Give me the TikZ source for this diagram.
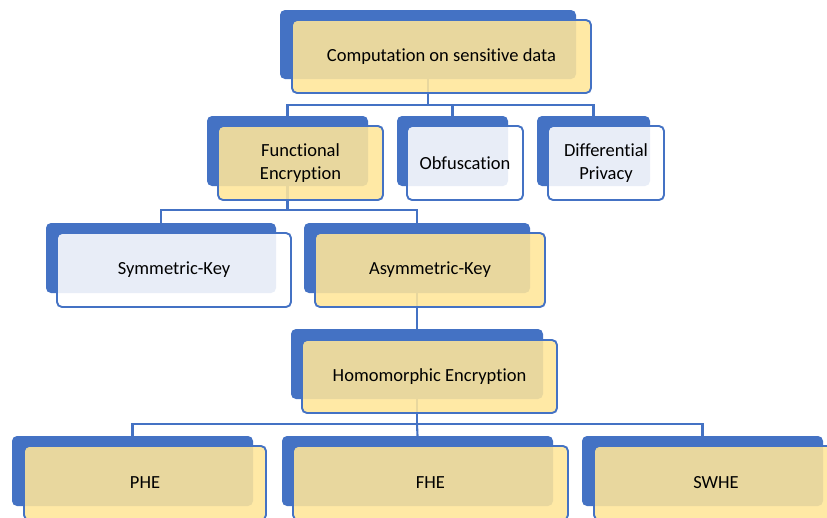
\documentclass[tikz,border=0pt]{standalone}
\usepackage{fontspec}
\setmainfont{Carlito}[Ligatures={NoCommon}]
\definecolor{accent}{HTML}{4472C4}
\definecolor{paleyellow}{HTML}{FFE699}
\begin{document}
\begin{tikzpicture}[x=1pt,y=-1pt,
  backbox/.style={rectangle, rounded corners=5pt, fill=accent, draw=none, minimum height=70pt, inner sep=0pt},
  frontbox/.style={rectangle, rounded corners=5pt, draw=accent, line width=1.9pt, fill opacity=0.88, text opacity=1,
    minimum height=74pt, inner sep=0pt, align=center, font=\fontsize{18.5}{22.5}\selectfont},
  yel/.style={frontbox, fill=paleyellow},
  wht/.style={frontbox, fill=white},
  conn/.style={draw=accent, line width=2.1pt}]
\clip (0,0) rectangle (827,517);
\fill[white] (0,0) rectangle (827,517);

% back panels
\node[backbox, minimum width=296pt, minimum height=69pt] (topB) at (428,44.5) {};
\node[backbox, minimum width=161pt] (funcB) at (287.5,151) {};
\node[backbox, minimum width=111pt] (obfB) at (452.5,151) {};
\node[backbox, minimum width=113pt] (diffB) at (593.5,151) {};
\node[backbox, minimum width=230pt] (symB) at (161,258) {};
\node[backbox, minimum width=226pt] (asymB) at (417,258) {};
\node[backbox, minimum width=252pt] (homB) at (417,364) {};
\node[backbox, minimum width=241pt] (pheB) at (132.5,471) {};
\node[backbox, minimum width=271pt] (fheB) at (417.5,471) {};
\node[backbox, minimum width=241pt] (swheB) at (702.5,471) {};

% connectors
\draw[conn] (topB.south) -- (topB.south |- 0,105) -| (funcB.north);
\draw[conn] (topB.south |- 0,105) -| (obfB.north);
\draw[conn] (topB.south |- 0,105) -| (diffB.north);
\draw[conn] (funcB.south) -- (funcB.south |- 0,210) -| (symB.north);
\draw[conn] (funcB.south |- 0,210) -| (asymB.north);
\draw[conn] (asymB.south) -- (homB.north);
\draw[conn] (homB.south) -- (homB.south |- 0,424) -| (pheB.north);
\draw[conn] (homB.south |- 0,424) -- (fheB.north);
\draw[conn] (homB.south |- 0,424) -| (swheB.north);

% front panels
\node[yel, minimum width=299pt, minimum height=73pt] (top) at (441.5,56.5) {Computation on sensitive data};
\node[yel, minimum width=165pt] (func) at (300.5,163) {Functional\\Encryption};
\node[wht, minimum width=116pt] (obf) at (465,163) {Obfuscation};
\node[wht, minimum width=116pt] (diff) at (606,163) {Differential\\Privacy};
\node[wht, minimum width=234pt] (sym) at (174,270) {Symmetric-Key};
\node[yel, minimum width=230pt] (asym) at (430,270) {Asymmetric-Key};
\node[yel, minimum width=255pt, minimum height=73pt] (hom) at (429.5,376.5) {Homomorphic Encryption};
\node[yel, minimum width=242pt] (phe) at (145,483) {PHE};
\node[yel, minimum width=275pt] (fhe) at (430.5,483) {FHE};
\node[yel, minimum width=244pt] (swhe) at (716,483) {SWHE};
\end{tikzpicture}
\end{document}
